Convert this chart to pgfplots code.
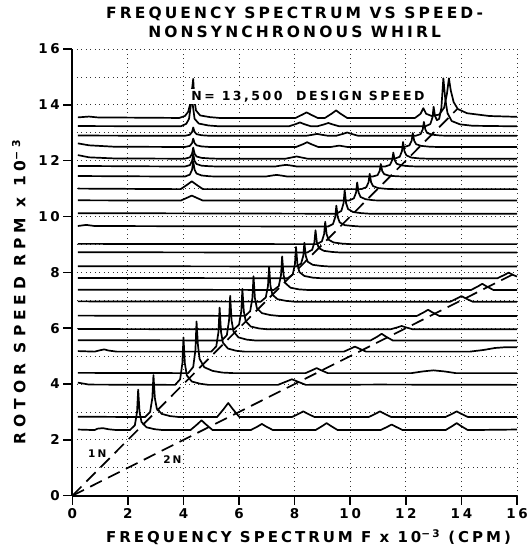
\documentclass[border=0pt]{standalone}
\usepackage{fontspec}
\setmainfont{DejaVu Sans}
\newfontfamily\lab[LetterSpace=20]{DejaVu Sans}
\newfontfamily\ylab[LetterSpace=32]{DejaVu Sans}
\usepackage{pgfplots}
\pgfplotsset{compat=1.18}

\begin{document}
\begin{tikzpicture}
\path[use as bounding box] (-72.3pt,-53.3pt) rectangle (459.7pt,495.7pt);
\begin{axis}[
    at={(0,0)}, anchor=south west,
    scale only axis, width=444.7pt, height=446.7pt,
    xmin=0, xmax=16, ymin=0, ymax=16,
    axis x line*=bottom, axis y line*=left,
    axis line style={line width=2pt},
    xtick={0,2,...,16}, ytick={0,2,...,16},
    minor ytick={1,3,...,15},
    tick align=outside, major tick length=9pt, minor tick length=0pt,
    tick style={line width=1.5pt, black},
    xmajorgrids, ymajorgrids, yminorgrids,
    major grid style={black!80, line width=0.8pt, dash pattern=on 1pt off 3.5pt},
    minor grid style={black!80, line width=0.8pt, dash pattern=on 1pt off 3.5pt},
    ticklabel style={font=\lab\bfseries\fontsize{13.5}{13.5}\selectfont},
    /pgf/number format/assume math mode=true,
    clip=false,
    tr/.style={black, line width=1.7pt, line join=round},
    dsh/.style={black, line width=1.7pt, dash pattern=on 13pt off 7pt},
]

% dashed order lines
\addplot[dsh] coordinates {(0,0) (13.85,13.85)};
\addplot[dsh] coordinates {(0,0) (16,8)};

% spectra, from low to high speed
\addplot[tr] coordinates {(0.2,2.37)(0.8,2.35)(0.9,2.40)(1.1,2.42)(1.3,2.38)(1.6,2.35)
 (2.07,2.35)(2.25,2.52)(2.33,3.00)(2.37,3.80)(2.42,3.00)(2.49,2.64)(2.67,2.45)(2.97,2.38)(3.27,2.35)
 (4.25,2.35)(4.5,2.56)(4.65,2.70)(4.8,2.56)(5.05,2.35)
 (6.42,2.35)(6.67,2.48)(6.82,2.57)(6.97,2.48)(7.22,2.35)
 (8.75,2.35)(9.0,2.50)(9.15,2.60)(9.3,2.50)(9.55,2.35)
 (11.09,2.35)(11.34,2.47)(11.49,2.55)(11.64,2.47)(11.89,2.35)
 (13.43,2.35)(13.68,2.50)(13.83,2.60)(13.98,2.50)(14.23,2.35)(16,2.37)};
\addplot[tr] coordinates {(0.2,2.83)(2.0,2.82)
 (2.62,2.82)(2.80,3.00)(2.88,3.50)(2.92,4.32)(2.97,3.50)(3.04,3.12)(3.22,2.93)(3.52,2.85)(3.82,2.82)
 (5.21,2.82)(5.46,3.12)(5.61,3.32)(5.76,3.12)(6.01,2.82)
 (7.91,2.82)(8.16,2.94)(8.31,3.02)(8.46,2.94)(8.71,2.82)
 (10.67,2.82)(10.92,2.94)(11.07,3.02)(11.22,2.94)(11.47,2.82)
 (13.43,2.82)(13.68,2.94)(13.83,3.02)(13.98,2.94)(14.23,2.82)(16,2.82)};
\addplot[tr] coordinates {(0.2,4.05)(0.6,3.98)(3.5,3.97)
 (3.7,3.97)(3.88,4.17)(3.96,4.74)(4.0,5.67)(4.05,4.74)(4.12,4.31)(4.3,4.09)(4.6,4.01)(4.9,3.97)
 (7.4,3.97)(7.7,4.09)(7.9,4.17)(8.1,4.09)(8.4,3.97)(11,3.98)(16,3.97)};
\addplot[tr] coordinates {(0.2,4.40)(4.1,4.39)
 (4.17,4.39)(4.35,4.61)(4.43,5.22)(4.47,6.24)(4.52,5.4)(4.58,4.9)(4.75,4.6)(5.05,4.47)(5.4,4.41)(5.8,4.39)
 (8.39,4.39)(8.64,4.50)(8.79,4.57)(8.94,4.50)(9.19,4.39)
 (12.2,4.39)(12.6,4.45)(12.99,4.49)(13.4,4.45)(13.8,4.39)(16,4.39)};
\addplot[tr] coordinates {(0.2,5.18)(0.8,5.16)(1.0,5.21)(1.15,5.24)(1.3,5.20)(1.6,5.16)
 (5.0,5.16)(5.18,5.35)(5.26,5.87)(5.3,6.74)(5.35,5.87)(5.42,5.48)(5.6,5.27)(5.9,5.19)(6.2,5.16)
 (9.77,5.16)(10.02,5.27)(10.17,5.34)(10.32,5.27)(10.57,5.16)
 (14.3,5.16)(14.8,5.22)(15.2,5.29)(15.6,5.32)(16,5.32)};
\addplot[tr] coordinates {(0.2,5.57)(5.38,5.56)
 (5.56,5.75)(5.64,6.28)(5.68,7.16)(5.73,6.28)(5.80,5.88)(5.98,5.67)(6.28,5.59)(6.58,5.56)
 (10.73,5.56)(10.98,5.70)(11.13,5.80)(11.28,5.70)(11.53,5.56)(16,5.56)};
\addplot[tr] coordinates {(0.2,5.97)(5.82,5.96)
 (6.0,6.13)(6.08,6.61)(6.12,7.41)(6.17,6.61)(6.24,6.25)(6.42,6.06)(6.72,5.99)(7.02,5.96)
 (11.45,5.96)(11.7,6.03)(11.85,6.08)(12.0,6.03)(12.25,5.96)(16,5.96)};
\addplot[tr] coordinates {(0.2,6.45)(6.22,6.44)
 (6.4,6.61)(6.48,7.08)(6.52,7.86)(6.57,7.08)(6.64,6.72)(6.82,6.54)(7.12,6.47)(7.42,6.44)
 (12.4,6.44)(12.65,6.57)(12.8,6.66)(12.95,6.57)(13.2,6.44)(16,6.44)};
\addplot[tr] coordinates {(0.2,6.96)(6.78,6.95)
 (6.96,7.10)(7.04,7.51)(7.08,8.20)(7.13,7.51)(7.20,7.20)(7.38,7.04)(7.68,6.98)(7.98,6.95)
 (13.6,6.95)(13.85,7.07)(14.0,7.15)(14.15,7.07)(14.4,6.95)(16,6.95)};
\addplot[tr] coordinates {(0.2,7.38)(7.25,7.37)
 (7.43,7.51)(7.51,7.91)(7.55,8.57)(7.6,7.91)(7.67,7.61)(7.85,7.45)(8.15,7.39)(8.45,7.37)
 (14.35,7.37)(14.6,7.50)(14.75,7.59)(14.9,7.50)(15.15,7.37)(16,7.37)};
\addplot[tr] coordinates {(0.2,7.80)(7.75,7.79)
 (7.93,7.92)(8.01,8.29)(8.05,8.91)(8.10,8.29)(8.17,8.01)(8.35,7.87)(8.65,7.81)(8.95,7.79)
 (15.3,7.79)(15.55,7.91)(15.7,7.99)(15.85,7.91)(16,7.85)};
\addplot[tr] coordinates {(0.2,8.22)(8.05,8.21)
 (8.23,8.31)(8.31,8.59)(8.35,9.06)(8.40,8.59)(8.47,8.38)(8.65,8.27)(8.95,8.23)(9.25,8.21)(16,8.21)};
\addplot[tr] coordinates {(0.2,8.72)(8.45,8.71)
 (8.63,8.81)(8.71,9.07)(8.75,9.51)(8.80,9.07)(8.87,8.87)(9.05,8.77)(9.35,8.73)(9.65,8.71)(16,8.71)};
\addplot[tr] coordinates {(0.2,9.02)(8.8,9.01)
 (8.98,9.11)(9.06,9.37)(9.1,9.81)(9.15,9.37)(9.22,9.17)(9.4,9.07)(9.7,9.03)(10.0,9.01)(16,9.01)};
\addplot[tr] coordinates {(0.2,9.66)(0.5,9.70)(0.8,9.66)(9.2,9.64)
 (9.38,9.73)(9.46,9.98)(9.5,10.39)(9.55,9.98)(9.62,9.79)(9.8,9.69)(10.1,9.66)(10.4,9.64)(16,9.64)};
\addplot[tr] coordinates {(0.2,10.12)(9.5,10.10)
 (9.68,10.20)(9.76,10.48)(9.8,10.95)(9.85,10.48)(9.92,10.27)(10.1,10.16)(10.4,10.12)(10.7,10.10)(16,10.10)};
\addplot[tr] coordinates {(0.2,10.58)(3.9,10.57)
 (4.15,10.68)(4.3,10.75)(4.45,10.68)(4.7,10.57)
 (9.95,10.57)(10.13,10.65)(10.21,10.86)(10.25,11.22)(10.3,10.86)(10.37,10.70)(10.55,10.62)(10.85,10.58)(11.15,10.57)(16,10.57)};
\addplot[tr] coordinates {(0.2,11.0)(3.9,10.98)
 (4.15,11.15)(4.3,11.26)(4.45,11.15)(4.7,10.98)
 (10.4,10.98)(10.58,11.05)(10.66,11.23)(10.7,11.53)(10.75,11.23)(10.82,11.09)(11.0,11.02)(11.3,10.99)(11.6,10.98)(16,10.98)};
\addplot[tr] coordinates {(0.2,11.45)(4.05,11.43)
 (4.23,11.50)(4.31,11.68)(4.35,11.98)(4.40,11.68)(4.47,11.54)(4.65,11.47)(4.95,11.44)(5.25,11.43)
 (6.95,11.43)(7.2,11.47)(7.35,11.49)(7.5,11.47)(7.75,11.43)
 (10.8,11.43)(10.98,11.48)(11.06,11.63)(11.1,11.88)(11.15,11.63)(11.22,11.52)(11.4,11.46)(11.7,11.44)(12.0,11.43)(16,11.43)};
\addplot[tr] coordinates {(0.2,11.81)(4.05,11.79)
 (4.23,11.84)(4.31,11.99)(4.35,12.24)(4.40,11.99)(4.47,11.88)(4.65,11.82)(4.95,11.80)(5.25,11.79)
 (7.29,11.79)(7.54,11.83)(7.69,11.85)(7.84,11.83)(8.09,11.79)
 (11.25,11.79)(11.43,11.85)(11.51,12.02)(11.55,12.29)(11.6,12.02)(11.67,11.89)(11.85,11.83)(12.15,11.80)(12.45,11.79)(16,11.79)};
\addplot[tr] coordinates {(0.2,12.2)(0.6,12.12)(1.5,12.08)(4.05,12.07)
 (4.23,12.12)(4.31,12.25)(4.35,12.47)(4.40,12.25)(4.47,12.15)(4.65,12.10)(4.95,12.08)(5.25,12.07)
 (7.67,12.07)(7.92,12.12)(8.07,12.15)(8.22,12.12)(8.47,12.07)
 (11.6,12.07)(11.78,12.14)(11.86,12.34)(11.9,12.67)(11.95,12.34)(12.02,12.19)(12.2,12.11)(12.5,12.08)(12.8,12.07)(16,12.07)};
\addplot[tr] coordinates {(0.2,12.62)(0.6,12.55)(1.5,12.50)(4.05,12.49)
 (4.23,12.53)(4.31,12.63)(4.35,12.79)(4.40,12.63)(4.47,12.55)(4.65,12.51)(4.95,12.49)
 (8.05,12.49)(8.3,12.59)(8.45,12.66)(8.6,12.59)(8.85,12.49)
 (9.3,12.49)(9.6,12.54)(9.9,12.49)
 (11.95,12.49)(12.13,12.55)(12.21,12.72)(12.25,12.99)(12.30,12.72)(12.37,12.59)(12.55,12.53)(12.85,12.50)(13.15,12.49)(16,12.49)};
\addplot[tr] coordinates {(0.2,12.9)(4.05,12.89)
 (4.23,12.93)(4.31,13.03)(4.35,13.19)(4.40,13.03)(4.47,12.95)(4.65,12.91)(4.95,12.89)
 (8.41,12.89)(8.66,12.93)(8.81,12.96)(8.96,12.93)(9.21,12.89)
 (9.49,12.89)(9.74,12.96)(9.89,13.01)(10.04,12.96)(10.29,12.89)
 (12.35,12.89)(12.53,12.95)(12.61,13.12)(12.65,13.39)(12.70,13.12)(12.77,12.99)(12.95,12.93)(13.25,12.90)(13.55,12.89)(16,12.89)};
\addplot[tr] coordinates {(0.2,13.24)(3.9,13.23)
 (4.1,13.32)(4.2,13.5)(4.26,13.95)(4.3,14.58)(4.34,13.95)(4.4,13.5)(4.55,13.33)(4.9,13.26)(5.3,13.23)
 (7.79,13.23)(8.04,13.31)(8.19,13.37)(8.34,13.31)(8.59,13.23)
 (8.81,13.23)(9.06,13.30)(9.21,13.35)(9.36,13.30)(9.61,13.23)
 (12.7,13.23)(12.88,13.31)(12.96,13.55)(13.0,13.93)(13.05,13.6)(13.12,13.45)(13.2,13.5)(13.28,13.9)(13.35,14.95)(13.42,14.2)(13.5,13.7)(13.65,13.42)(13.95,13.3)(14.4,13.25)(16,13.23)};
\addplot[tr] coordinates {(0.2,13.55)(0.6,13.58)(0.9,13.55)(3.85,13.53)
 (4.05,13.6)(4.17,13.75)(4.26,14.1)(4.35,14.93)(4.39,14.2)(4.45,13.8)(4.6,13.62)(4.95,13.56)(5.3,13.53)
 (8.03,13.53)(8.28,13.65)(8.43,13.73)(8.58,13.65)(8.83,13.53)
 (9.09,13.53)(9.34,13.69)(9.49,13.80)(9.64,13.69)(9.89,13.53)
 (12.33,13.53)(12.53,13.68)(12.63,13.88)(12.73,13.68)(12.93,13.6)
 (13.2,13.65)(13.38,13.9)(13.48,14.4)(13.55,14.95)(13.62,14.5)(13.72,14.1)(13.87,13.85)(14.2,13.7)(15,13.6)(16,13.57)};

% annotations
\node[fill=white, inner sep=2pt, font=\lab\bfseries\fontsize{12.5}{12.5}\selectfont]
  at (axis cs:8.48,14.3) {N= 13,500 \ DESIGN SPEED};
\node[font=\lab\bfseries\fontsize{10.5}{10.5}\selectfont] at (axis cs:0.9,1.5) {1N};
\node[font=\lab\bfseries\fontsize{10.5}{10.5}\selectfont] at (axis cs:3.6,1.28) {2N};

% titles and axis labels
\node[anchor=base, font=\lab\bfseries\fontsize{15.5}{15.5}\selectfont]
  at ([yshift=30pt]rel axis cs:0.5,1) {FREQUENCY SPECTRUM VS SPEED-};
\node[anchor=base, font=\lab\bfseries\fontsize{15.5}{15.5}\selectfont]
  at ([yshift=11pt]rel axis cs:0.5,1) {NONSYNCHRONOUS WHIRL};
\node[anchor=base, font=\lab\bfseries\fontsize{15}{15}\selectfont]
  at ([yshift=-47pt]axis cs:8.5,0) {FREQUENCY SPECTRUM F x 10\textsuperscript{−3} (CPM)};
\node[anchor=base, rotate=90, font=\ylab\bfseries\fontsize{15.5}{15.5}\selectfont]
  at ([xshift=-47pt]axis cs:0,7.3) {ROTOR SPEED RPM x 10\textsuperscript{−3}};
\end{axis}
\end{tikzpicture}
\end{document}
